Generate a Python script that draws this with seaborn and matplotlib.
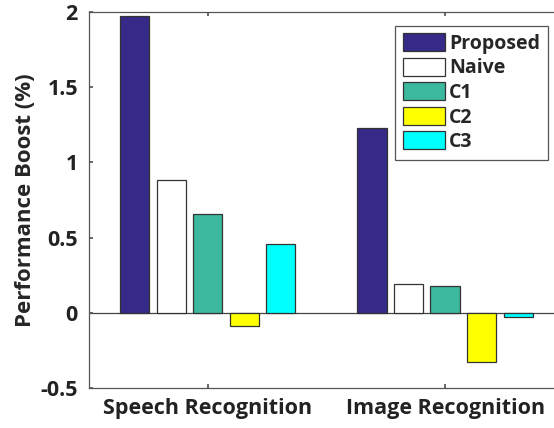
import pandas as pd
import numpy as np
import seaborn as sns
import matplotlib.pyplot as plt

# values
tasks = ["Speech Recognition", "Image Recognition"]
methods = ["Proposed", "Naive", "C1", "C2", "C3"]
speech_vals = [1.97, 0.88, 0.66, -0.09, 0.46]
image_vals = [1.23, 0.19, 0.175, -0.33, -0.025]
colors = ["#352a87", "#ffffff", "#3bb89e", "#ffff00", "#00ffff"]

df = pd.DataFrame({
    "task": np.repeat(tasks, len(methods)),
    "method": methods * len(tasks),
    "boost": speech_vals + image_vals,
})

sns.set_theme(style="white")
plt.rcParams["font.family"] = ["Open Sans", "DejaVu Sans"]
plt.rcParams["font.weight"] = "bold"

fig = plt.figure(figsize=(5.54, 4.28), dpi=100)
ax = fig.add_axes([0.1607, 0.0935, 0.857, 0.8785])

sns.barplot(data=df, x="task", y="boost", hue="method", order=tasks,
            hue_order=methods, palette=colors, width=0.77, gap=0.2,
            edgecolor="#333333", linewidth=0.9, saturation=1, ax=ax)

# baseline at zero
ax.axhline(0, color="#444444", lw=0.9, zorder=0.5)
ax.set_xlim(-0.5, 1.5)
ax.set_ylim(-0.5, 2)
ax.set_yticks([-0.5, 0, 0.5, 1, 1.5, 2])
ax.set_yticklabels(["-0.5", "0", "0.5", "1", "1.5", "2"])
ax.set_xlabel("")
ax.set_ylabel("Performance Boost (%)", fontsize=16, fontweight="bold", labelpad=3)
ax.tick_params(axis="both", labelsize=15.5, direction="in", length=3, color="#555555",
               top=True, left=True, bottom=True, right=False)
for lbl in ax.get_xticklabels() + ax.get_yticklabels():
    lbl.set_fontweight("bold")
    lbl.set_color("#222222")
ax.tick_params(axis="x", pad=7)
ax.tick_params(axis="y", pad=8)
for side in ["left", "bottom", "top"]:
    ax.spines[side].set_color("#555555")
    ax.spines[side].set_linewidth(0.9)
ax.spines["right"].set_visible(False)

leg = ax.legend(loc="upper left", bbox_to_anchor=(0.644, 0.964), borderaxespad=0,
                prop={"size": 14, "weight": "bold"}, handlelength=2.2, handleheight=1.05,
                labelspacing=0.2, handletextpad=0.2, borderpad=0.4,
                fancybox=False, framealpha=1, edgecolor="#555555")
leg.get_frame().set_linewidth(0.9)

fig.savefig("out.png", dpi=100)
